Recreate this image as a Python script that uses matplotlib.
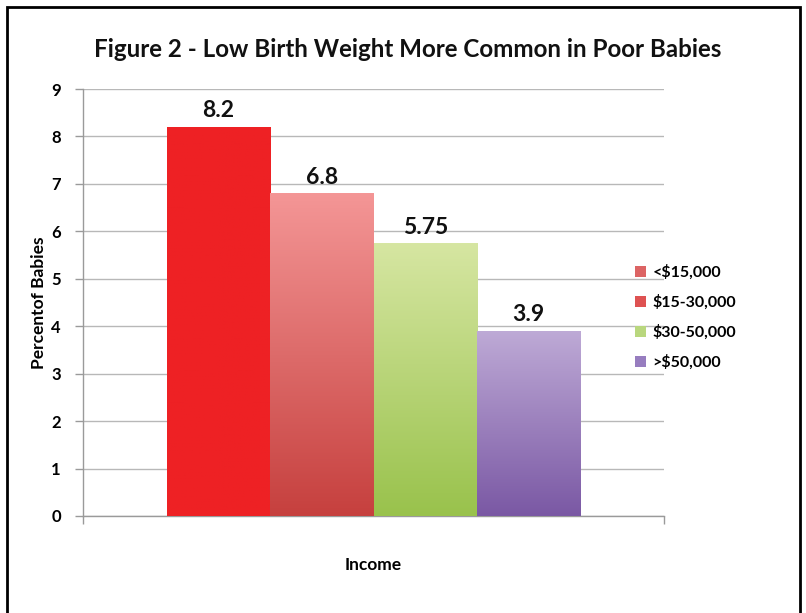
import numpy as np
import matplotlib.pyplot as plt
from matplotlib.patches import Rectangle, Patch
from matplotlib.colors import LinearSegmentedColormap

# Data
income_groups = ['<$15,000', '$15-30,000', '$30-50,000', '>$50,000']
percent_babies = [8.2, 6.8, 5.75, 3.9]
value_labels = ['8.2', '6.8', '5.75', '3.9']
y_ticks = [0, 1, 2, 3, 4, 5, 6, 7, 8, 9]

# gradient colours (top, bottom) per bar, plus flat legend colours
grad_top = ['#EE2124', '#F49696', '#D6E6A2', '#BEAAD6']
grad_bot = ['#EE2124', '#C6403E', '#99C24C', '#7A58A4']
legend_cols = ['#DC6464', '#DE5252', '#B9D77E', '#977DBF']

plt.rcParams['font.family'] = ['Lato', 'DejaVu Sans']

fig = plt.figure(figsize=(8.06, 6.13), dpi=100)
ax = fig.add_axes([83/806, 97/613, 581/806, 427/613])

width = 0.178
offsets = (np.arange(len(percent_babies)) - 1.5) * width
bars = ax.bar(offsets, percent_babies, width=width, color='none', edgecolor='none', zorder=3)

for i, b in enumerate(bars):
    cmap = LinearSegmentedColormap.from_list('g%d' % i, [grad_bot[i], grad_top[i]])
    x0, y0 = b.get_x(), b.get_y()
    grad = np.linspace(0, 1, 256).reshape(-1, 1)
    im = ax.imshow(grad, cmap=cmap, origin='lower', aspect='auto',
                   extent=[x0, x0 + b.get_width(), y0, y0 + b.get_height()], zorder=3)
    im.set_clip_path(b)
    ax.text(b.get_x() + b.get_width() / 2, b.get_height() + 0.12, value_labels[i],
            ha='center', va='bottom', fontsize=16.5, fontweight='bold', color='#111111')

ax.set_xlim(-0.5, 0.5)
ax.set_ylim(0, 9)
ax.set_yticks(y_ticks)
ax.set_yticklabels([str(t) for t in y_ticks], fontsize=12, fontweight='bold')
ax.set_xticks([-0.5, 0.5])
ax.set_xticklabels(['', ''])
ax.tick_params(axis='both', direction='out', length=6, color='#9a9a9a', width=1)
ax.tick_params(axis='y', pad=10)
ax.grid(axis='y', color='#b8b8b8', linewidth=1, zorder=0)
ax.set_axisbelow(True)
for s in ['top', 'right']:
    ax.spines[s].set_visible(False)
for s in ['left', 'bottom']:
    ax.spines[s].set_color('#9a9a9a')
    ax.spines[s].set_linewidth(1)

ax.set_ylabel('Percentof Babies', fontsize=12.5, fontweight='bold', labelpad=3)
ax.set_xlabel('Income', fontsize=12.5, fontweight='bold', labelpad=20)

fig.text(0.506, 0.919, 'Figure 2 - Low Birth Weight More Common in Poor Babies',
         ha='center', va='center', fontsize=17.4, fontweight='bold', color='#111111')

handles = [Patch(facecolor=c, edgecolor='none') for c in legend_cols]
fig.legend(handles, income_groups, loc='center left', bbox_to_anchor=(0.77, 0.482),
           frameon=False, prop={'size': 11.5, 'weight': 'bold'},
           handlelength=0.7, handleheight=0.7, handletextpad=0.4, labelspacing=0.93)

fig.patches.append(Rectangle((7/806, -0.02), 793/806, 1.02 - 7/613, transform=fig.transFigure,
                             fill=False, edgecolor='black', linewidth=2))

fig.savefig('out.png', dpi=100)
